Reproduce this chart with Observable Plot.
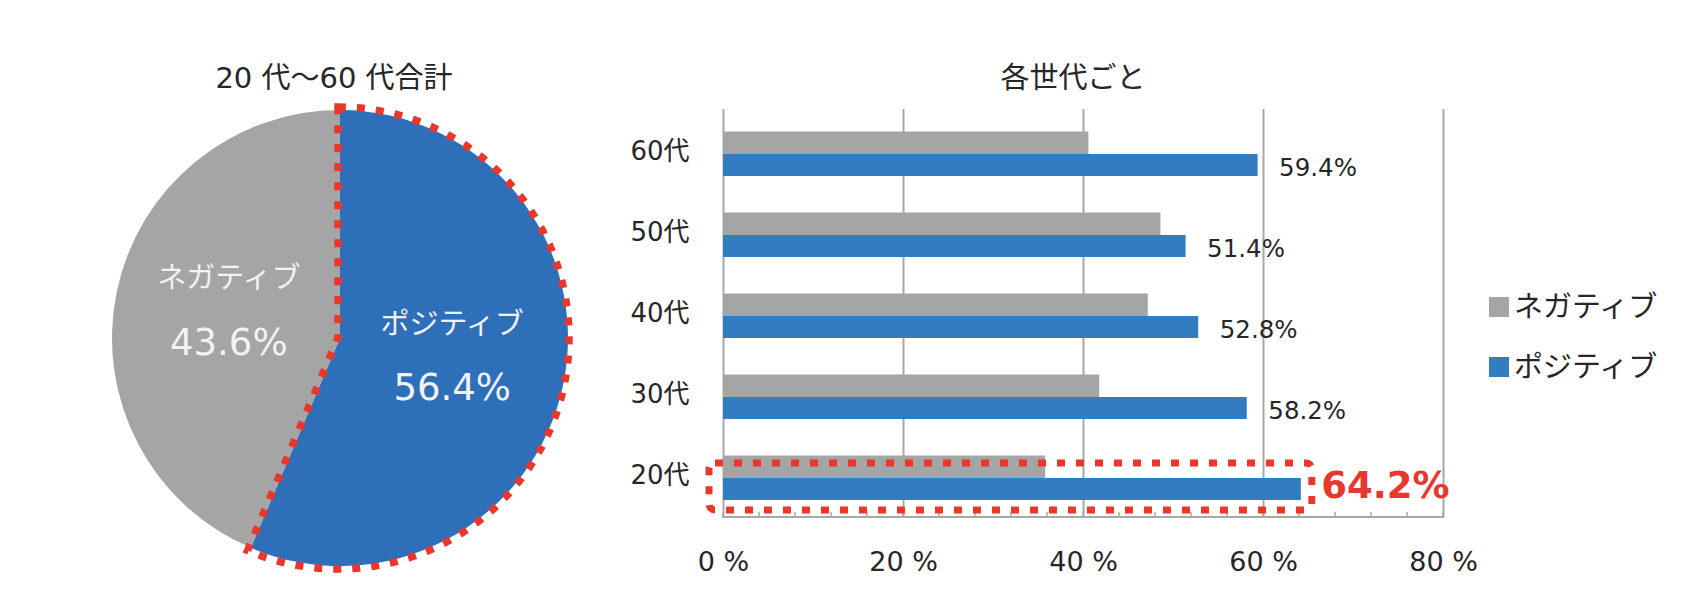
<!DOCTYPE html>
<html><head><meta charset="utf-8">
<script src="https://cdn.jsdelivr.net/npm/d3@7"></script>
<script src="https://cdn.jsdelivr.net/npm/@observablehq/plot@0.6"></script>
<style>
html,body{margin:0;padding:0;background:#fff;}
#root{position:relative;width:1708px;height:614px;overflow:hidden;font-family:"DejaVu Sans","Noto Sans CJK JP",sans-serif;color:#262626;}
.abs{position:absolute;white-space:nowrap;}
</style></head><body><div id="root"></div>
<script>
// ---- data ----
const pieTitle = "20 代～60 代合計";
const barTitle = "各世代ごと";
const pieLabels = ["ポジティブ", "ネガティブ"];
const pieValues = [56.4, 43.6];
const ages = ["60代", "50代", "40代", "30代", "20代"];
const seriesNames = ["ネガティブ", "ポジティブ"];
const negativeValues = [40.6, 48.6, 47.2, 41.8, 35.8];
const positiveValues = [59.4, 51.4, 52.8, 58.2, 64.2];
const xTicks = [0, 20, 40, 60, 80];
const xTickLabels = ["0 %", "20 %", "40 %", "60 %", "80 %"];
const highlightAge = "20代";

// ---- style ----
const GREY = "#a5a5a5", PIE_BLUE = "#2e6fba", BAR_BLUE = "#327dbf", RED = "#e8372c", GRID = "#a8a8a8";
const TEXT = "#262626", FONT = '"DejaVu Sans","Noto Sans CJK JP",sans-serif';

function customMark(draw) {
  return function(...args) {
    const isScales = args[0] && typeof args[0] === "object" && typeof args[0].x === "function";
    const scales = isScales ? args[0] : args[1];
    const dims = isScales ? args[1] : args[3];
    return draw(scales, dims);
  };
}

const root = document.getElementById("root");
function addDiv(text, css) {
  const d = document.createElement("div");
  d.className = "abs";
  d.textContent = text;
  Object.assign(d.style, css);
  root.appendChild(d);
  return d;
}

// ---- pie ----
const pieData = pieLabels.map((l, i) => ({label: l, value: pieValues[i]}));
const arcs = d3.pie().sort(null).value(d => d.value)(pieData);
arcs.forEach(a => {
  const m = (a.startAngle + a.endAngle) / 2;
  a.cx = Math.sin(m) * 0.5;
  a.cy = Math.cos(m) * 0.5;
});
const cx = 340, cy = 338, R = 228, W1 = 700, H = 614;
const pieColor = {"ポジティブ": PIE_BLUE, "ネガティブ": GREY};

const piePlot = Plot.plot({
  width: W1, height: H,
  marginLeft: cx - R, marginRight: W1 - (cx + R), marginTop: cy - R, marginBottom: H - (cy + R),
  x: {domain: [-1, 1], axis: null},
  y: {domain: [-1, 1], axis: null},
  style: {fontFamily: FONT, background: "transparent", overflow: "visible"},
  marks: [
    customMark((s) => {
      const g = d3.create("svg:g");
      const x0 = s.x(0), y0 = s.y(0), rad = s.x(1) - s.x(0);
      const arcGen = d3.arc().innerRadius(0).outerRadius(rad);
      g.attr("transform", `translate(${x0},${y0})`);
      g.selectAll("path.slice").data(arcs).join("path")
        .attr("class", "slice").attr("d", arcGen).attr("fill", d => pieColor[d.data.label]);
      const pos = arcs.find(a => a.data.label === "ポジティブ");
      g.append("path")
        .attr("d", d3.arc().innerRadius(0).outerRadius(rad + 3)(pos))
        .attr("transform", "translate(-2,0)")
        .attr("fill", "none").attr("stroke", RED).attr("stroke-width", 7.5)
        .attr("stroke-dasharray", "8 11");
      return g.node();
    }),
    Plot.text(arcs, {x: "cx", y: "cy", text: d => d.data.label, dy: -37, fill: "#f2f2f2", fontSize: 29}),
    Plot.text(arcs, {x: "cx", y: "cy", text: d => d.data.value.toFixed(1) + "%", dy: 27, fill: "#f2f2f2", fontSize: 37})
  ]
});
piePlot.style.position = "absolute";
piePlot.style.left = "0px";
piePlot.style.top = "0px";
root.appendChild(piePlot);
addDiv(pieTitle, {left: "134px", width: "400px", textAlign: "center", top: "58px", height: "40px", lineHeight: "40px", fontSize: "29px"});

// ---- bars ----
const rows = ages.flatMap((a, i) => [
  {age: a, series: seriesNames[0], value: negativeValues[i]},
  {age: a, series: seriesNames[1], value: positiveValues[i]}
]);
const negRows = rows.filter(d => d.series === seriesNames[0]);
const posRows = rows.filter(d => d.series === seriesNames[1]);
const BL = 560, W2 = 1708 - BL;
const plotLeft = 723, plotRight = 1443, plotTop = 109, plotBottom = 517;

const barPlot = Plot.plot({
  width: W2, height: H,
  marginLeft: plotLeft - BL, marginRight: 1708 - plotRight, marginTop: plotTop, marginBottom: H - plotBottom,
  x: {domain: [0, 80], axis: null},
  y: {domain: ages, padding: 0, axis: null},
  style: {fontFamily: FONT, background: "transparent", overflow: "visible", color: TEXT},
  marks: [
    Plot.ruleX(xTicks, {x: d => d, stroke: GRID, strokeWidth: 2}),
    Plot.barX(negRows, {x1: 0, x2: "value", y: "age", fill: GREY, insetTop: 20.5, insetBottom: 38}),
    Plot.barX(posRows, {x1: 0, x2: "value", y: "age", fill: BAR_BLUE, insetTop: 43, insetBottom: 16}),
    customMark((s, dims) => {
      const g = d3.create("svg:g").attr("stroke", GRID);
      const yb = dims.height - dims.marginBottom;
      g.append("line").attr("x1", s.x(0) - 1).attr("x2", s.x(80) + 1).attr("y1", yb).attr("y2", yb).attr("stroke-width", 2);
      g.selectAll("line.minor").data(d3.range(0, 81, 4)).join("line").attr("class", "minor")
        .attr("x1", d => s.x(d)).attr("x2", d => s.x(d)).attr("y1", yb).attr("y2", yb - 5).attr("stroke-width", 1.5);
      return g.node();
    }),
    Plot.barX(posRows.filter(d => d.age === highlightAge), {
      x1: 0, x2: "value", y: "age", fill: "none", stroke: RED, strokeWidth: 7, strokeDasharray: "8 11",
      rx: 6, insetLeft: -14, insetRight: -11, insetTop: 28, insetBottom: 6
    }),
    Plot.text(posRows.filter(d => d.age !== highlightAge), {
      x: "value", y: "age", text: d => d.value.toFixed(1) + "%", textAnchor: "start", dx: 21, dy: 16, fontSize: 24.5, fill: TEXT
    }),
    Plot.text(posRows.filter(d => d.age === highlightAge), {
      x: "value", y: "age", text: d => d.value.toFixed(1) + "%", textAnchor: "start", dx: 20, dy: 10, fontSize: 37, fontWeight: "bold", fill: RED
    }),
    Plot.text(ages, {y: d => d, frameAnchor: "left", textAnchor: "end", dx: -34, dy: 0, fontSize: 26, fill: TEXT}),
    Plot.text(xTicks, {x: d => d, frameAnchor: "bottom", text: (d, i) => xTickLabels[i], dy: 53, fontSize: 27, fill: TEXT})
  ]
});
barPlot.style.position = "absolute";
barPlot.style.left = BL + "px";
barPlot.style.top = "0px";
root.appendChild(barPlot);
addDiv(barTitle, {left: "873px", width: "400px", textAlign: "center", top: "58px", height: "40px", lineHeight: "40px", fontSize: "29px"});

// ---- legend ----
const legendColor = {"ネガティブ": GREY, "ポジティブ": BAR_BLUE};
seriesNames.forEach((s, i) => {
  const top = 297 + i * 60;
  const sw = document.createElement("div");
  sw.className = "abs";
  Object.assign(sw.style, {left: "1489px", top: top + "px", width: "20px", height: "20px", background: legendColor[s]});
  root.appendChild(sw);
  addDiv(s, {left: "1514px", top: (top - 10) + "px", height: "40px", lineHeight: "40px", fontSize: "29px"});
});
</script></body></html>
